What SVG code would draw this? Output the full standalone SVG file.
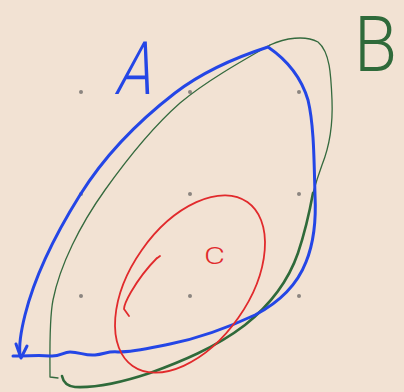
<svg xmlns="http://www.w3.org/2000/svg" width="404" height="392" viewBox="0 0 404 392">
<style>
.dot{fill:#8c8580}
.blue{fill:none;stroke:#2446e6;stroke-width:3;stroke-linecap:round;stroke-linejoin:round}
.gthin{fill:none;stroke:#356a3e;stroke-width:1.3;stroke-linecap:round;stroke-linejoin:round}
.gthick{fill:none;stroke:#2f6a3a;stroke-width:2.6;stroke-linecap:round;stroke-linejoin:round}
.red{fill:none;stroke:#e12a2c;stroke-width:1.8;stroke-linecap:round;stroke-linejoin:round}
.lbl{font-family:Roboto,"Liberation Sans",sans-serif;font-weight:300}
</style>
<rect width="404" height="392" fill="#f2e2d3"/>
<g id="dots">
<circle class="dot" cx="81" cy="92" r="2"/><circle class="dot" cx="190" cy="92" r="2"/><circle class="dot" cx="299" cy="92" r="2"/>
<circle class="dot" cx="81" cy="194" r="2"/><circle class="dot" cx="190" cy="194" r="2"/><circle class="dot" cx="299" cy="194" r="2"/>
<circle class="dot" cx="81" cy="296" r="2"/><circle class="dot" cx="190" cy="296" r="2"/><circle class="dot" cx="299" cy="296" r="2"/>
</g>
<g id="B">
<path class="gthin" d="M270,45 C240,62 205,82 180,103 C155,125 130,155 105,190 C80,225 60,265 53,300 C49,320 50,350 50,377 L58,378"/>
<path class="gthin" d="M270,45 C285,38 305,35 318,42 C330,52 331,75 332,100 C333,125 330,145 322,165 C318,176 315,186 313,193"/>
<path class="gthick" d="M313,193 C309,215 305,232 298,253 C288,282 270,305 245,325 C215,348 180,362 150,373 C120,383 95,388 75,387 C66,386 63,381 62,376"/>
<text class="lbl" x="0" y="0" fill="#2f6a3a" font-size="78" transform="translate(354,71) scale(0.9,1)">B</text>
</g>
<g id="A">
<path class="blue" d="M13,356 C30,356 40,355 50,356 C60,357 63,352 70,352 C80,352 85,356 95,355 C105,354 108,351 118,352 C135,352 150,348 170,344 C200,338 225,329 255,315 C280,302 297,285 306,262 C315,240 316,215 315,195 C314,160 314,125 308,100 C302,80 290,62 268,47 C240,56 205,70 175,93 C140,120 105,155 80,195 C55,235 35,275 25,315 C20,335 19,347 20,355"/>
<path class="blue" d="M16,344 L21,358 L27,346"/>
<text class="lbl" x="0" y="0" fill="#2446e6" font-size="74" transform="translate(114,94) skewX(-14) scale(0.78,1)">A</text>
</g>
<g id="C">
<ellipse class="red" cx="190" cy="284" rx="100" ry="59" transform="rotate(-55 190 284)"/>
<path class="red" d="M156,259 L160,256 M157,258 C148,267 138,280 131,292 C127,299 124,305 124,309 L129,316"/>
<text class="lbl" x="0" y="0" fill="#e12a2c" font-size="24" transform="translate(204,264) scale(1.35,1)">C</text>
</g>
</svg>
